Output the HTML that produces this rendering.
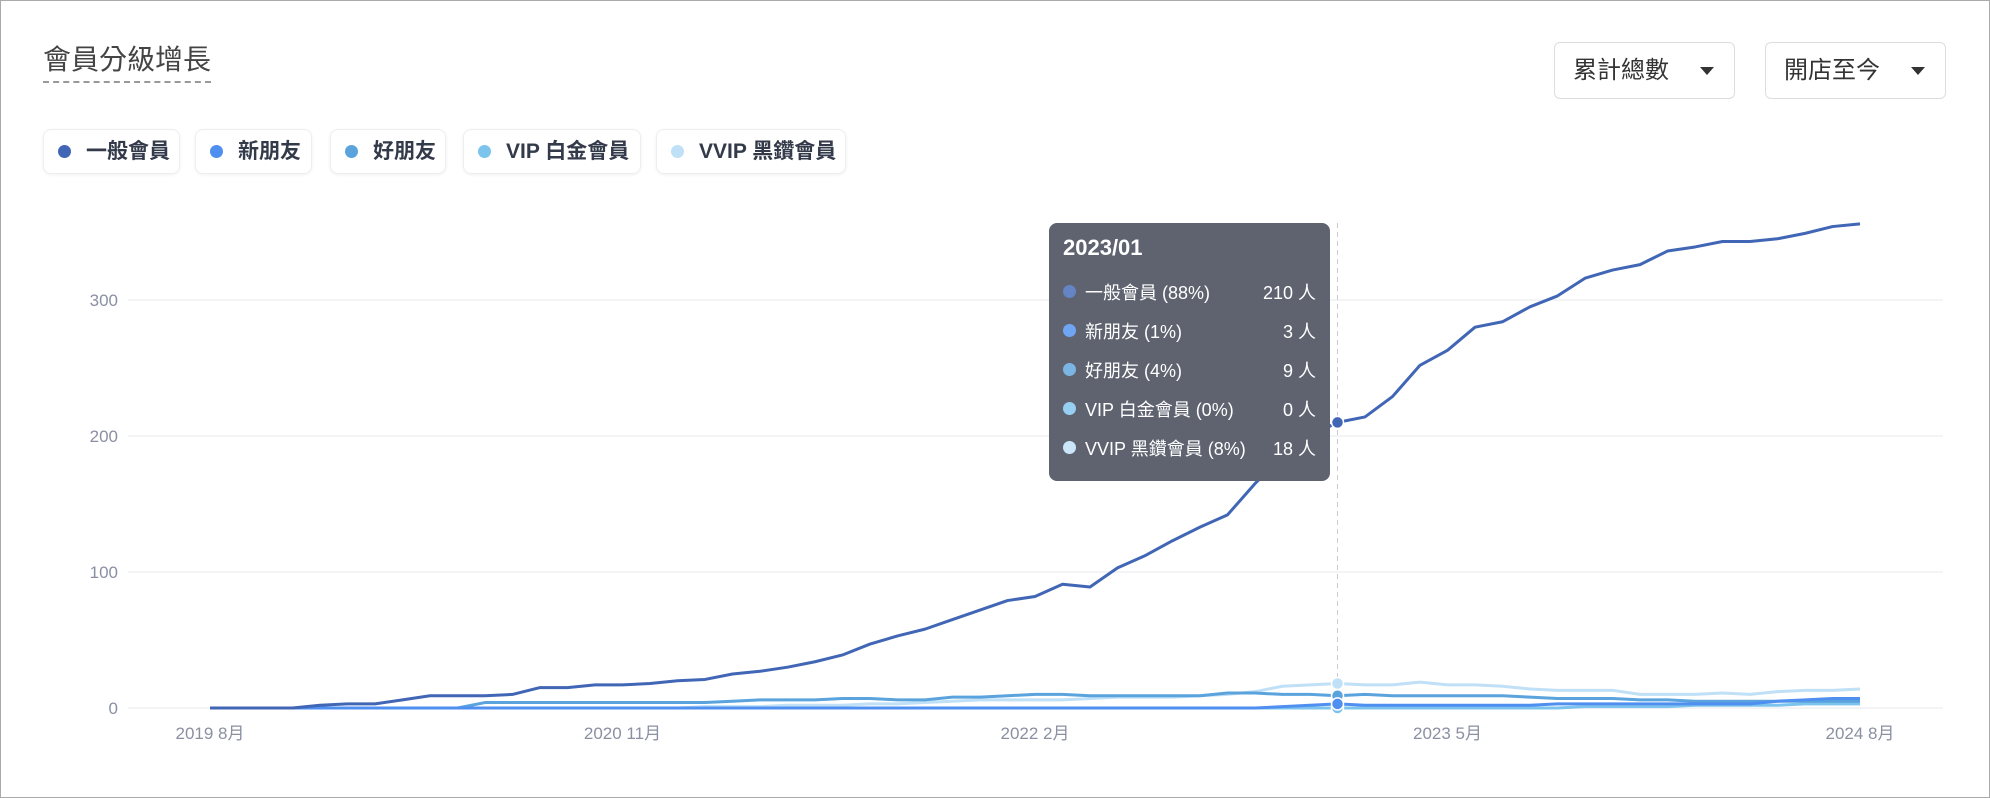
<!DOCTYPE html>
<html><head><meta charset="utf-8"><style>
body{margin:0;background:#fff;font-family:"Liberation Sans","Noto Sans CJK TC",sans-serif;}
#wrap{position:relative;width:1988px;height:796px;border:1px solid #aaa;overflow:hidden;background:#fff}
.title{position:absolute;left:42px;top:42px;font-size:28px;color:#444;border-bottom:2px dashed #999;padding-bottom:4px;line-height:34px}
.dd{position:absolute;top:41px;height:57px;width:181px;border:1px solid #ddd;border-radius:6px;font-size:24px;color:#333;box-sizing:border-box;padding-left:18px;line-height:55px}
.dd span{position:absolute;right:20px;top:24px;border-left:7px solid transparent;border-right:7px solid transparent;border-top:8px solid #333}
.pill{position:absolute;top:128px;height:45px;border:1px solid #eee;border-radius:8px;box-shadow:0 1px 3px rgba(0,0,0,.06);font-size:21px;font-weight:bold;color:#333a4a;line-height:43px;padding-left:42px;box-sizing:border-box}
.pill i{position:absolute;left:14px;top:15px;width:13px;height:13px;border-radius:50%}
.tip{position:absolute;left:1048px;top:222px;width:281px;height:258px;background:#5f6370;border-radius:8px;color:#fff;font-size:18px}
.tip .t{position:absolute;left:14px;top:12px;font-weight:bold;font-size:22px}
.row{position:absolute;left:14px;right:14px;height:24px}
.row i{position:absolute;left:0;top:6px;width:13px;height:13px;border-radius:50%}
.row .l{position:absolute;left:22px}.row .v{position:absolute;right:0}
</style></head><body>
<div id="wrap">
<div class="title">會員分級增長</div>
<div class="dd" style="left:1553px">累計總數<span></span></div>
<div class="dd" style="left:1764px">開店至今<span></span></div>
<div class="pill" style="left:42px;width:137px"><i style="background:#4066b5"></i>一般會員</div>
<div class="pill" style="left:194px;width:117px"><i style="background:#4f8ff0"></i>新朋友</div>
<div class="pill" style="left:329px;width:116px"><i style="background:#5aa3dc"></i>好朋友</div>
<div class="pill" style="left:462px;width:178px"><i style="background:#7cc3ee"></i>VIP 白金會員</div>
<div class="pill" style="left:655px;width:190px"><i style="background:#bfe0f7"></i>VVIP 黑鑽會員</div>
<svg id="chart" width="1988" height="796" style="position:absolute;left:0;top:0"></svg>
<div class="tip">
<div class="t">2023/01</div>
<div class="row" style="top:56px"><i style="background:#6584c4"></i><span class="l">一般會員 (88%)</span><span class="v">210 人</span></div>
<div class="row" style="top:95px"><i style="background:#6fa5f3"></i><span class="l">新朋友 (1%)</span><span class="v">3 人</span></div>
<div class="row" style="top:134px"><i style="background:#7bb5e3"></i><span class="l">好朋友 (4%)</span><span class="v">9 人</span></div>
<div class="row" style="top:173px"><i style="background:#96cff1"></i><span class="l">VIP 白金會員 (0%)</span><span class="v">0 人</span></div>
<div class="row" style="top:212px"><i style="background:#cbe6f9"></i><span class="l">VVIP 黑鑽會員 (8%)</span><span class="v">18 人</span></div>
</div>
</div>
<script>
const yTicks=[0,100,200,300];
const xLabels=["2019 8月","2020 11月","2022 2月","2023 5月","2024 8月"];
const xLabelIdx=[0,15,30,45,60];
const general=[0,0,0,0,2,3,3,6,9,9,9,10,15,15,17,17,18,20,21,25,27,30,34,39,47,53,58,65,72,79,82,91,89,103,112,123,133,142,165,185,200,210,214,229,252,263,280,284,295,303,316,322,326,336,339,343,343,345,349,354,356];
const newFriend=[0,0,0,0,0,0,0,0,0,0,0,0,0,0,0,0,0,0,0,0,0,0,0,0,0,0,0,0,0,0,0,0,0,0,0,0,0,0,0,1,2,3,2,2,2,2,2,2,2,3,3,3,3,3,3,3,3,5,6,7,7];
const goodFriend=[0,0,0,0,0,0,0,0,0,0,4,4,4,4,4,4,4,4,4,5,6,6,6,7,7,6,6,8,8,9,10,10,9,9,9,9,9,11,11,10,10,9,10,9,9,9,9,9,8,7,7,7,6,6,5,5,5,5,5,5,5];
const vip=[0,0,0,0,0,0,0,0,0,0,0,0,0,0,0,0,0,0,0,0,0,0,0,0,0,0,0,0,0,0,0,0,0,0,0,0,0,0,0,0,0,0,0,0,0,0,0,0,0,0,1,1,1,1,2,2,2,2,3,3,3];
const vvip=[0,0,0,0,0,0,0,0,0,0,0,0,0,0,0,0,0,0,1,1,1,2,2,2,3,3,4,5,6,6,6,6,7,8,8,8,9,10,12,16,17,18,17,17,19,17,17,16,14,13,13,13,10,10,10,11,10,12,13,13,14];
const seriesList=[[vvip,"#bfe0f7","vvip"],[vip,"#7cc3ee","vip"],[goodFriend,"#5aa3dc","good-friend"],[newFriend,"#4f8ff0","new-friend"],[general,"#4066b5","general"]];
const hoverIdx=41;
const svg=document.getElementById('chart');const NS="http://www.w3.org/2000/svg";
const x0=209,x1=1859,y0=707,yPer=1.36,n=general.length;
const X=i=>x0+i*(x1-x0)/(n-1);const Y=v=>y0-v*yPer;
function mk(t,a){const e=document.createElementNS(NS,t);for(const k in a)e.setAttribute(k,a[k]);svg.appendChild(e);return e;}
yTicks.forEach(v=>{
 const g=mk('line',{x1:127,x2:1942,y1:Y(v),y2:Y(v),stroke:'#eef0f3','stroke-width':1.5});
 
 const t=mk('text',{x:117,y:Y(v)+6,'text-anchor':'end','font-size':17,fill:'#8a90a2','font-family':'Liberation Sans, sans-serif'});t.textContent=v;
 
});
xLabels.forEach((s,k)=>{
 const t=mk('text',{x:X(xLabelIdx[k]),y:738,'text-anchor':'middle','font-size':17,fill:'#8a90a2','font-family':'Liberation Sans, Noto Sans CJK TC, sans-serif'});t.textContent=s;
 
});
const hl=mk('line',{x1:X(hoverIdx),x2:X(hoverIdx),y1:222,y2:707,stroke:'#ccc','stroke-dasharray':'5,4'});

seriesList.forEach(([d,c,nm])=>{
 const p=mk('polyline',{points:d.map((v,i)=>X(i)+','+Y(v)).join(' '),fill:'none',stroke:c,'stroke-width':3,'stroke-linejoin':'round'});
 
});
seriesList.forEach(([d,c,nm])=>{
 const ci=mk('circle',{cx:X(hoverIdx),cy:Y(d[hoverIdx]),r:6,fill:c,stroke:'#fff','stroke-width':1.5});
 
});
</script>
</body></html>
